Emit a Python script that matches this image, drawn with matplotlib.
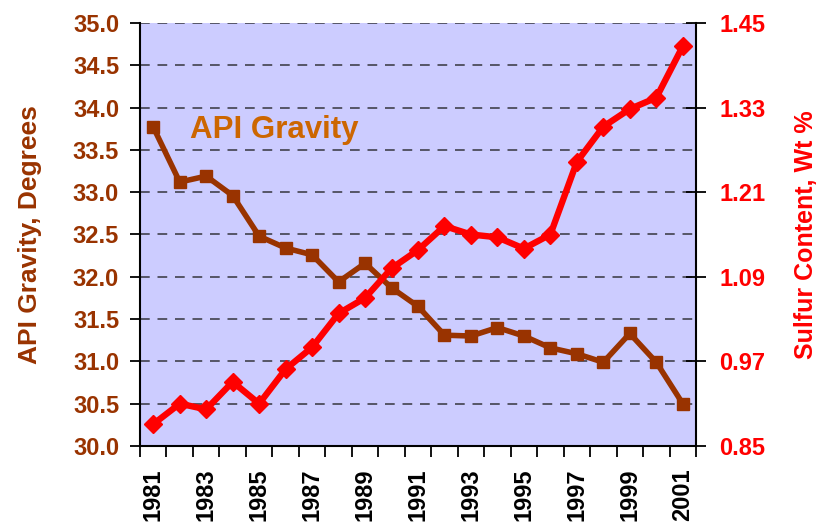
import matplotlib
matplotlib.use("Agg")
import matplotlib.pyplot as plt
import numpy as np

plt.rcParams['font.family'] = ['Liberation Sans', 'DejaVu Sans']
plt.rcParams['font.weight'] = 'bold'

# Data
years = list(range(1981, 2002))
api_gravity = [33.77, 33.12, 33.19, 32.96, 32.48, 32.34, 32.26, 31.94, 32.16, 31.87,
               31.65, 31.31, 31.30, 31.40, 31.30, 31.16, 31.09, 30.99, 31.33, 30.99, 30.50]
sulfur = [0.881, 0.910, 0.902, 0.941, 0.910, 0.959, 0.990, 1.038, 1.060, 1.102,
          1.128, 1.162, 1.150, 1.146, 1.130, 1.150, 1.253, 1.303, 1.328, 1.344, 1.417]
api_ticks = [30.0, 30.5, 31.0, 31.5, 32.0, 32.5, 33.0, 33.5, 34.0, 34.5, 35.0]
sulfur_ticks = [0.85, 0.97, 1.09, 1.21, 1.33, 1.45]

brown = '#993300'
red = '#ff0000'

fig = plt.figure(figsize=(8.21, 5.25), dpi=100)
ax = fig.add_axes([140 / 821, 1 - 446 / 525, 556 / 821, 423 / 525])
ax.set_facecolor('#ccccff')

x = np.arange(len(years))

# dashed grid lines at every 0.5 degree
for v in api_ticks[1:]:
    ax.axhline(v, color='#555566', lw=1.4, ls=(0, (5, 4)), zorder=1)

ax.plot(x, api_gravity, color=brown, lw=4, marker='s', markersize=9, zorder=3)
ax.set_ylim(30, 35)
ax.set_yticks(api_ticks)
ax.set_yticklabels([f'{v:.1f}' for v in api_ticks], color=brown, fontsize=17, fontweight='bold')
ax.set_ylabel('API Gravity, Degrees', color=brown, fontsize=19, fontweight='bold', labelpad=22)
ax.tick_params(axis='y', direction='out', length=7, width=1.3, pad=8)

ax.set_xlim(-0.5, len(years) - 0.5)
ax.set_xticks(x[::2])
ax.set_xticklabels([str(y) for y in years[::2]], rotation=90, fontsize=17,
                   fontweight='bold', color='black')
ax.set_xticks(np.arange(-0.5, len(years)), minor=True)
ax.tick_params(axis='x', which='major', length=0, pad=16)
ax.tick_params(axis='x', which='minor', direction='out', length=8, width=1.3)

for s in ['left', 'bottom']:
    ax.spines[s].set_linewidth(1.5)
ax.spines['top'].set_visible(False)
ax.spines['right'].set_visible(False)

ax.text(1.39, 33.74, 'API Gravity', color='#cc6600', fontsize=22.5, fontweight='bold',
        va='center', ha='left', zorder=4)

ax2 = ax.twinx()
ax2.plot(x, sulfur, color=red, lw=4.6, marker='D', markersize=9, zorder=3)
ax2.set_ylim(0.85, 1.45)
ax2.set_yticks(sulfur_ticks)
ax2.set_yticklabels([f'{v:.2f}' for v in sulfur_ticks], color=red, fontsize=17, fontweight='bold')
ax2.set_ylabel('Sulfur Content, Wt %', color=red, fontsize=18, fontweight='bold', labelpad=20)
ax2.tick_params(axis='y', direction='inout', length=14, width=1.3, pad=10)
ax2.spines['right'].set_linewidth(1.5)
ax2.spines['top'].set_visible(False)
ax2.spines['left'].set_visible(False)
ax2.spines['bottom'].set_visible(False)

fig.savefig('out.png', dpi=100)
